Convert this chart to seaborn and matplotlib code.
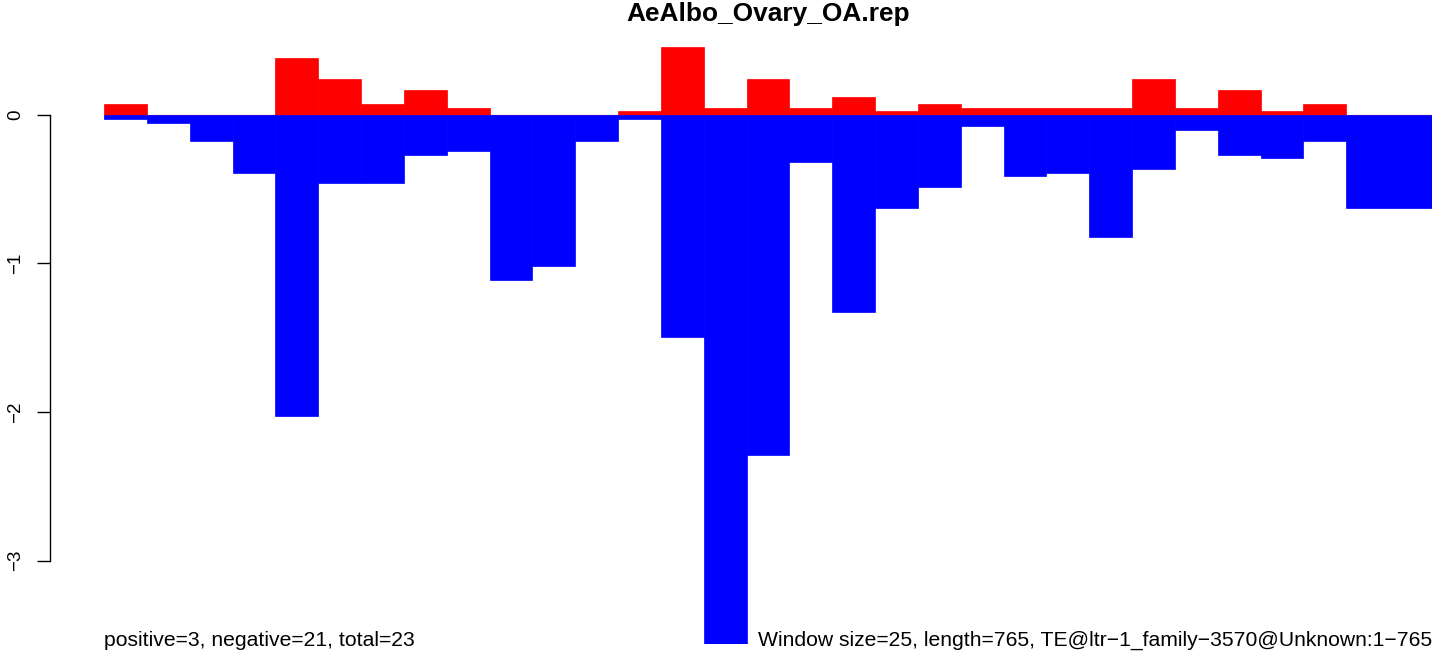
import numpy as np
import pandas as pd
import matplotlib
matplotlib.use("Agg")
import matplotlib.pyplot as plt
import seaborn as sns

# window index (31 windows of 25 bp over 765 bp)
windows = list(range(1, 32))
# positive strand scores (red)
pos = [0.074, 0, 0, 0, 0.381, 0.24, 0.074, 0.166, 0.045, 0, 0, 0, 0.025, 0.457, 0.045,
       0.24, 0.045, 0.119, 0.025, 0.072, 0.045, 0.045, 0.045, 0.045, 0.24, 0.045, 0.166,
       0.025, 0.072, 0, 0]
# negative strand scores (blue)
neg = [-0.029, -0.054, -0.175, -0.39, -2.024, -0.457, -0.457, -0.271, -0.244, -1.112,
       -1.017, -0.175, -0.029, -1.493, -3.562, -2.289, -0.318, -1.327, -0.627, -0.484,
       -0.076, -0.412, -0.392, -0.822, -0.365, -0.103, -0.271, -0.291, -0.177, -0.625,
       -0.625]
yticks = [0, -1, -2, -3]

title = "AeAlbo_Ovary_OA.rep"
left_note = "positive=3, negative=21, total=23"
right_note = "Window size=25, length=765, TE@ltr\u22121_family\u22123570@Unknown:1\u2212765"

df = pd.DataFrame({"window": windows, "pos": pos, "neg": neg})

sns.set_style("white")
plt.rcParams["font.family"] = ["Liberation Sans", "DejaVu Sans"]
plt.rcParams["text.color"] = "black"

W, H = 1452, 656
fig = plt.figure(figsize=(W / 100, H / 100), dpi=100)
ax = fig.add_axes([104 / W, (H - 644.3) / H, (1432 - 104) / W, (644.3 - 46.7) / H])

ax.axhline(0, color="#BEBEBE", lw=1, zorder=0)
sns.barplot(data=df, x="window", y="pos", color="red", saturation=1, width=1,
            edgecolor="red", linewidth=0.5, ax=ax, zorder=2)
sns.barplot(data=df, x="window", y="neg", color="blue", saturation=1, width=1,
            edgecolor="blue", linewidth=0.5, ax=ax, zorder=3)

ax.set_xlim(-0.5, len(windows) - 0.5)
ax.set_ylim(min(neg), max(pos))
ax.set_xlabel("")
ax.set_ylabel("")
ax.set_xticks([])

# spine placement first: set_position resets the tick labels
for s in ["top", "right", "bottom"]:
    ax.spines[s].set_visible(False)
ax.spines["left"].set_position(("outward", 54 * 0.72))
ax.spines["left"].set_bounds(-3, 0)
ax.spines["left"].set_linewidth(1)
ax.spines["left"].set_color("black")

ax.set_yticks(yticks)
ax.set_yticklabels([f"{v:d}".replace("-", "\u2212") for v in yticks])
ax.tick_params(axis="y", length=9.4, width=1, pad=9, left=True, colors="black",
               labelsize=13.5, labelrotation=90)
for lab in ax.get_yticklabels():
    lab.set_va("center")
    lab.set_ha("right")
ax.patch.set_alpha(0)

fig.text(768 / W, 1 - 21 / H, title, ha="center", va="baseline",
         fontsize=18.9, fontweight="bold", color="black")
fig.text(104 / W, 1 - 645.7 / H, left_note, ha="left", va="baseline",
         fontsize=15.2, color="black")
fig.text(1432 / W, 1 - 645.7 / H, right_note, ha="right", va="baseline",
         fontsize=15.2, color="black")

fig.savefig("out.png", dpi=100, facecolor="white")
